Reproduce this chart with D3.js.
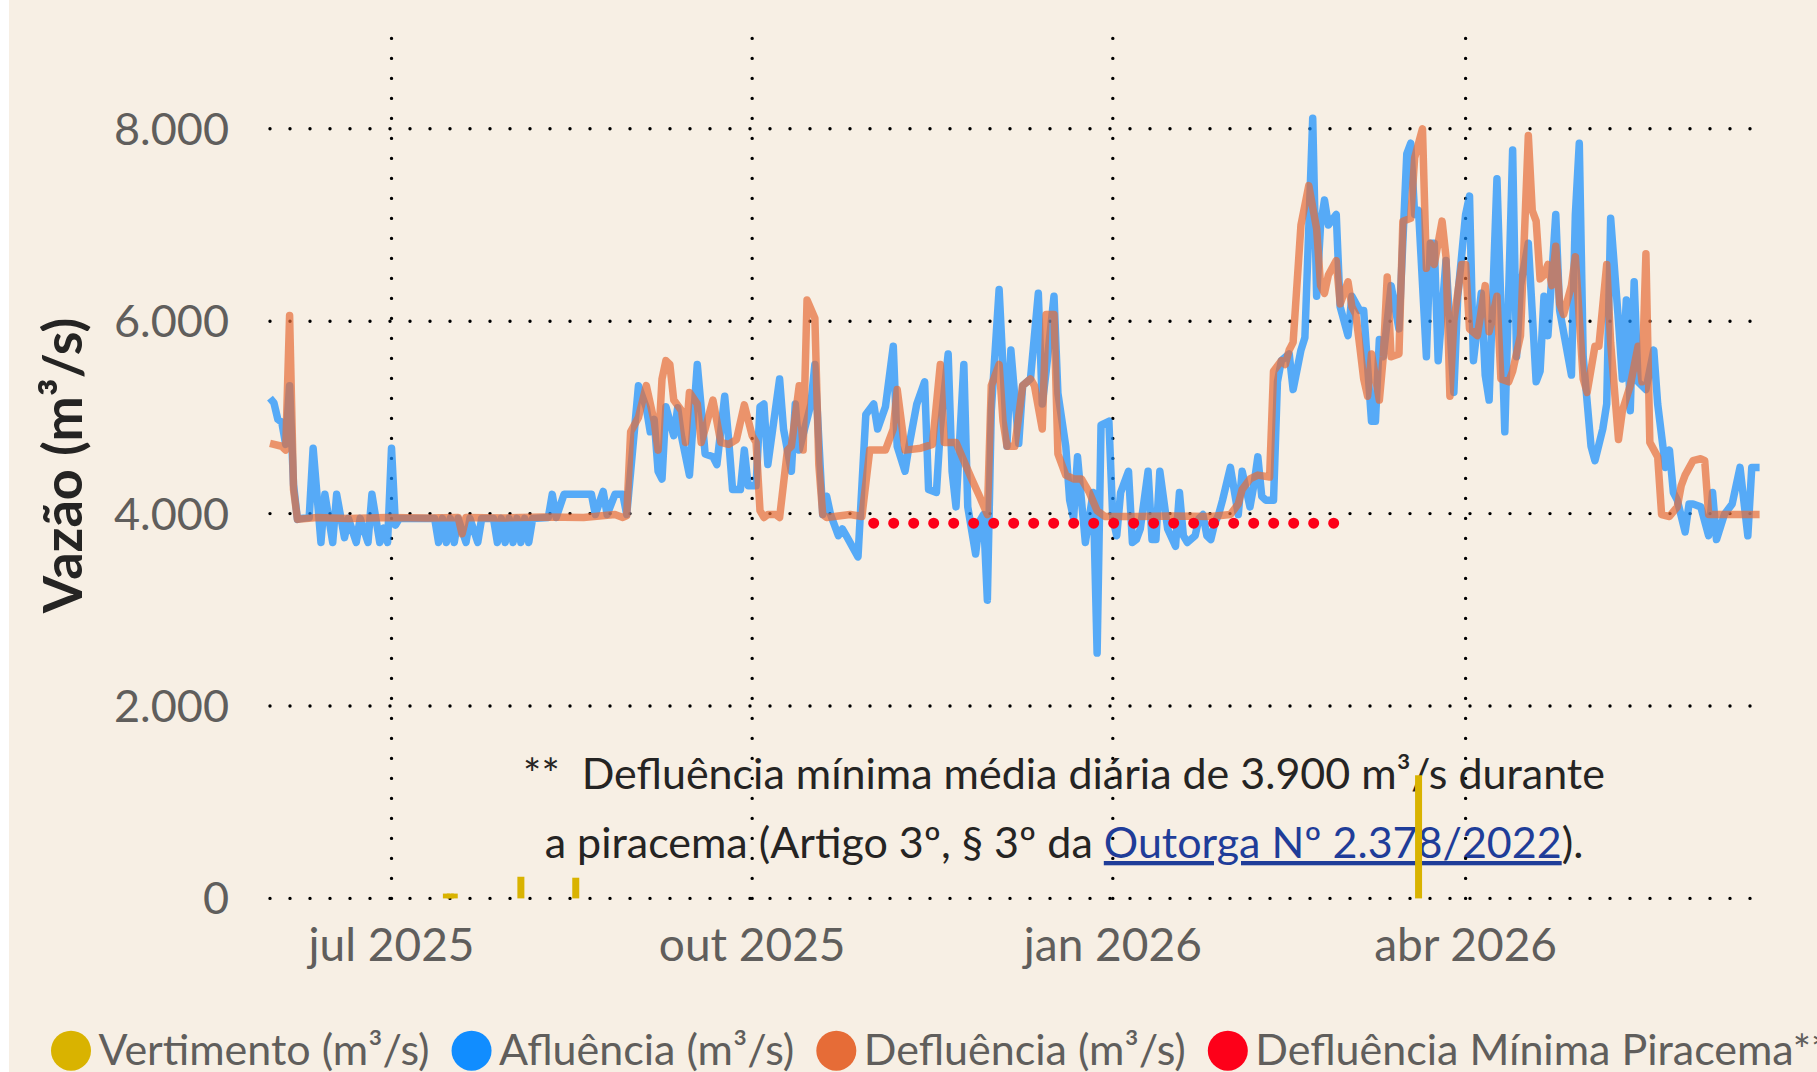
<!DOCTYPE html>
<html>
<head>
<meta charset="utf-8">
<script src="https://cdn.jsdelivr.net/npm/d3@7"></script>
<style>
  body { margin: 0; background: #ffffff; }
  svg text { font-family: Lato, "Open Sans", sans-serif; }
</style>
</head>
<body>
<svg id="chart" width="1817" height="1072"></svg>
<script>
// daily flows (date, m3/s)
const afluencia = [
  ["2025-05-31",5200],["2025-06-01",5150],["2025-06-02",4980],["2025-06-03",4950],["2025-06-04",4720],
  ["2025-06-05",5330],["2025-06-06",4300],["2025-06-07",3940],["2025-06-08",3950],["2025-06-10",3960],
  ["2025-06-11",4680],["2025-06-13",3700],["2025-06-14",4200],["2025-06-16",3700],["2025-06-17",4200],
  ["2025-06-19",3750],["2025-06-20",3950],["2025-06-22",3700],["2025-06-23",3950],["2025-06-25",3700],
  ["2025-06-26",4200],["2025-06-28",3700],["2025-06-29",3850],["2025-06-30",3700],["2025-07-01",4680],
  ["2025-07-02",3880],["2025-07-03",3950],["2025-07-12",3950],["2025-07-13",3700],["2025-07-14",3950],
  ["2025-07-15",3700],["2025-07-16",3950],["2025-07-17",3700],["2025-07-18",3950],["2025-07-20",3700],
  ["2025-07-21",3950],["2025-07-23",3700],["2025-07-24",3950],["2025-07-27",3950],["2025-07-28",3700],
  ["2025-07-29",3950],["2025-07-30",3700],["2025-07-31",3950],["2025-08-01",3700],["2025-08-02",3950],
  ["2025-08-03",3700],["2025-08-04",3950],["2025-08-05",3700],["2025-08-06",3950],["2025-08-10",3960],
  ["2025-08-11",4200],["2025-08-12",3960],["2025-08-14",4200],["2025-08-21",4200],["2025-08-22",3990],
  ["2025-08-24",4230],["2025-08-25",3990],["2025-08-27",4200],["2025-08-29",4200],["2025-08-30",3990],
  ["2025-09-01",4880],["2025-09-02",5330],["2025-09-04",5100],["2025-09-05",4850],["2025-09-06",4980],
  ["2025-09-07",4440],["2025-09-08",4360],["2025-09-09",5110],["2025-09-11",4810],["2025-09-12",5100],
  ["2025-09-13",4800],["2025-09-15",4400],["2025-09-17",5550],["2025-09-18",5100],["2025-09-19",4620],
  ["2025-09-21",4590],["2025-09-22",4510],["2025-09-24",5220],["2025-09-25",4770],["2025-09-26",4250],
  ["2025-09-28",4250],["2025-09-29",4660],["2025-09-30",4290],["2025-10-02",4290],["2025-10-03",5110],
  ["2025-10-04",5140],["2025-10-05",4510],["2025-10-08",5400],["2025-10-09",4880],["2025-10-11",4440],
  ["2025-10-12",5140],["2025-10-13",4660],["2025-10-16",5140],["2025-10-17",5550],["2025-10-19",3990],
  ["2025-10-20",4180],["2025-10-21",3990],["2025-10-23",3770],["2025-10-24",3840],["2025-10-25",3770],
  ["2025-10-28",3550],["2025-10-30",5030],["2025-11-01",5140],["2025-11-02",4880],["2025-11-04",5110],
  ["2025-11-06",5740],["2025-11-07",4700],["2025-11-09",4440],["2025-11-10",4700],["2025-11-12",5140],
  ["2025-11-14",5370],["2025-11-15",4250],["2025-11-17",4220],["2025-11-18",4880],["2025-11-20",5660],
  ["2025-11-21",4440],["2025-11-22",4070],["2025-11-24",5550],["2025-11-25",4070],["2025-11-27",3580],
  ["2025-11-28",3920],["2025-11-29",3990],["2025-11-30",3100],["2025-12-01",5070],["2025-12-03",6330],
  ["2025-12-05",4700],["2025-12-06",5700],["2025-12-08",4730],["2025-12-09",5330],["2025-12-11",5400],
  ["2025-12-13",6290],["2025-12-14",5140],["2025-12-15",5480],["2025-12-17",6260],["2025-12-18",5250],
  ["2025-12-20",4700],["2025-12-21",4140],["2025-12-22",3950],["2025-12-23",4590],["2025-12-24",4140],
  ["2025-12-25",3700],["2025-12-27",4220],["2025-12-28",2550],["2025-12-29",4920],["2025-12-31",4960],
  ["2026-01-01",3950],["2026-01-02",3770],["2026-01-03",4220],["2026-01-05",4440],["2026-01-06",3700],
  ["2026-01-07",3730],["2026-01-08",3840],["2026-01-10",4440],["2026-01-11",3730],["2026-01-12",3730],
  ["2026-01-13",4440],["2026-01-15",3840],["2026-01-17",3660],["2026-01-18",4220],["2026-01-19",3770],
  ["2026-01-20",3700],["2026-01-22",3770],["2026-01-23",3950],["2026-01-24",3990],["2026-01-25",3770],
  ["2026-01-26",3730],["2026-01-27",3900],["2026-01-28",3990],["2026-01-29",4140],["2026-01-31",4480],
  ["2026-02-02",3990],["2026-02-03",4440],["2026-02-05",4070],["2026-02-06",4300],["2026-02-07",4590],
  ["2026-02-08",4180],["2026-02-09",4140],["2026-02-11",4140],["2026-02-12",5370],["2026-02-13",5590],
  ["2026-02-15",5660],["2026-02-16",5290],["2026-02-18",5700],["2026-02-19",5830],["2026-02-21",8110],
  ["2026-02-22",6260],["2026-02-23",7000],["2026-02-24",7260],["2026-02-25",7000],["2026-02-27",7110],
  ["2026-02-28",6150],["2026-03-02",5850],["2026-03-03",6260],["2026-03-05",6110],["2026-03-06",6110],
  ["2026-03-08",4960],["2026-03-09",4960],["2026-03-10",5810],["2026-03-11",5630],["2026-03-13",6370],
  ["2026-03-15",5920],["2026-03-17",7740],["2026-03-18",7850],["2026-03-19",7110],["2026-03-20",7150],
  ["2026-03-22",5630],["2026-03-23",6810],["2026-03-24",6810],["2026-03-25",5590],["2026-03-27",6630],
  ["2026-03-29",5260],["2026-03-30",6260],["2026-04-01",7110],["2026-04-02",7300],["2026-04-03",5590],
  ["2026-04-05",6290],["2026-04-06",5440],["2026-04-07",5180],["2026-04-09",7480],["2026-04-11",4850],
  ["2026-04-13",7780],["2026-04-14",5630],["2026-04-15",6370],["2026-04-17",6810],["2026-04-19",5370],
  ["2026-04-20",5480],["2026-04-21",6260],["2026-04-22",5850],["2026-04-24",7110],["2026-04-25",6110],
  ["2026-04-28",5440],["2026-04-29",7110],["2026-04-30",7850],["2026-05-01",5630],["2026-05-03",4700],
  ["2026-05-04",4550],["2026-05-06",4880],["2026-05-07",5140],["2026-05-08",7070],["2026-05-10",6000],
  ["2026-05-11",5400],["2026-05-12",6220],["2026-05-13",5070],["2026-05-14",6410],["2026-05-15",5370],
  ["2026-05-17",5290],["2026-05-19",5700],["2026-05-20",5140],["2026-05-22",4480],["2026-05-23",4660],
  ["2026-05-24",4220],["2026-05-25",4140],["2026-05-27",3810],["2026-05-28",4100],["2026-05-29",4100],
  ["2026-05-31",4070],["2026-06-02",3770],["2026-06-03",4220],["2026-06-04",3730],["2026-06-06",3990],
  ["2026-06-08",4100],["2026-06-10",4480],["2026-06-12",3770],["2026-06-13",4480],["2026-06-15",4480]
];

const defluencia = [
  ["2025-05-31",4730],["2025-06-03",4700],["2025-06-04",4660],["2025-06-05",6060],["2025-06-06",4250],
  ["2025-06-07",3940],["2025-06-12",3960],["2025-06-20",3950],["2025-06-30",3960],["2025-07-10",3955],
  ["2025-07-18",3960],["2025-07-19",3790],["2025-07-20",3960],["2025-07-30",3955],["2025-08-09",3965],
  ["2025-08-19",3960],["2025-08-27",3990],["2025-08-29",3960],["2025-08-30",3980],["2025-08-31",4850],
  ["2025-09-02",5000],["2025-09-04",5330],["2025-09-06",4960],["2025-09-07",4660],["2025-09-08",5400],
  ["2025-09-09",5590],["2025-09-10",5550],["2025-09-11",5180],["2025-09-13",5070],["2025-09-14",4740],
  ["2025-09-15",5260],["2025-09-17",5140],["2025-09-18",4740],["2025-09-19",4880],["2025-09-21",5180],
  ["2025-09-22",4960],["2025-09-23",4740],["2025-09-25",4720],["2025-09-27",4770],["2025-09-29",5130],
  ["2025-10-01",4810],["2025-10-02",4740],["2025-10-03",4030],["2025-10-04",3960],["2025-10-05",3990],
  ["2025-10-07",3990],["2025-10-08",3960],["2025-10-10",4660],["2025-10-11",4700],["2025-10-13",5330],
  ["2025-10-14",4660],["2025-10-15",6220],["2025-10-17",6030],["2025-10-18",4510],["2025-10-19",3990],
  ["2025-10-20",3960],["2025-10-26",3990],["2025-10-29",3970],["2025-10-31",4660],["2025-11-04",4660],
  ["2025-11-06",4880],["2025-11-07",5290],["2025-11-09",4660],["2025-11-13",4680],["2025-11-16",4720],
  ["2025-11-18",5550],["2025-11-19",4740],["2025-11-22",4740],["2025-11-24",4550],["2025-11-26",4360],
  ["2025-11-28",4180],["2025-11-30",3990],["2025-12-01",5330],["2025-12-03",5550],["2025-12-04",4960],
  ["2025-12-05",4700],["2025-12-07",4700],["2025-12-09",5330],["2025-12-11",5400],["2025-12-12",5330],
  ["2025-12-14",4880],["2025-12-15",6070],["2025-12-17",6070],["2025-12-18",4620],["2025-12-20",4400],
  ["2025-12-22",4360],["2025-12-24",4360],["2025-12-26",4220],["2025-12-28",4030],["2025-12-30",3970],
  ["2026-01-07",3970],["2026-01-16",3975],["2026-01-26",3970],["2026-01-31",3990],["2026-02-02",4100],
  ["2026-02-03",4250],["2026-02-05",4360],["2026-02-07",4400],["2026-02-10",4380],["2026-02-11",5480],
  ["2026-02-13",5590],["2026-02-14",5550],["2026-02-15",5700],["2026-02-16",5780],["2026-02-18",7000],
  ["2026-02-20",7410],["2026-02-22",6960],["2026-02-23",6370],["2026-02-24",6290],["2026-02-25",6480],
  ["2026-02-27",6630],["2026-02-28",6180],["2026-03-02",6410],["2026-03-03",6150],["2026-03-04",6070],
  ["2026-03-05",5740],["2026-03-06",5400],["2026-03-07",5220],["2026-03-08",5660],["2026-03-10",5180],
  ["2026-03-11",5630],["2026-03-12",6460],["2026-03-13",5630],["2026-03-15",5660],["2026-03-16",7040],
  ["2026-03-18",7070],["2026-03-19",7700],["2026-03-21",8000],["2026-03-22",6550],["2026-03-23",6810],
  ["2026-03-24",6590],["2026-03-26",7040],["2026-03-27",6670],["2026-03-28",5220],["2026-03-29",6000],
  ["2026-03-31",6590],["2026-04-01",6590],["2026-04-02",5920],["2026-04-04",5850],["2026-04-06",6370],
  ["2026-04-07",5890],["2026-04-09",6260],["2026-04-10",5400],["2026-04-12",5370],["2026-04-13",5480],
  ["2026-04-15",5850],["2026-04-17",7930],["2026-04-18",7150],["2026-04-19",7040],["2026-04-20",6440],
  ["2026-04-21",6480],["2026-04-22",6590],["2026-04-23",6370],["2026-04-24",6780],["2026-04-25",6180],
  ["2026-04-26",6070],["2026-04-28",6370],["2026-04-29",6670],["2026-05-01",5400],["2026-05-02",5260],
  ["2026-05-04",5740],["2026-05-05",5740],["2026-05-07",6590],["2026-05-08",5780],["2026-05-10",4770],
  ["2026-05-11",5070],["2026-05-13",5330],["2026-05-15",5740],["2026-05-16",5370],["2026-05-17",6700],
  ["2026-05-18",4740],["2026-05-20",4590],["2026-05-21",3990],["2026-05-23",3970],["2026-05-25",4070],
  ["2026-05-26",4290],["2026-05-27",4400],["2026-05-29",4550],["2026-05-31",4570],["2026-06-01",4550],
  ["2026-06-02",3990],["2026-06-08",3990],["2026-06-15",3990]
];

// spillway days
const vertimentoDates = ["2025-07-15","2025-07-16","2025-07-17","2025-08-03","2025-08-17","2026-03-20"];
const vertimentoValues = [50, 50, 50, 225, 215, 1280];

// piracema minimum (1 nov - 28 fev)
const piracemaDates = ["2025-11-01", "2026-02-28"];
const piracemaValue = 3900;

const yTicks = [0, 2000, 4000, 6000, 8000];
const monthNames = ["jan","fev","mar","abr","mai","jun","jul","ago","set","out","nov","dez"];

const legendItems = ["Vertimento (m³/s)", "Afluência (m³/s)", "Defluência (m³/s)", "Defluência Mínima Piracema**"];
const legendColors = ["#D9B300", "#118DFF", "#E66C37", "#FD0019"];

const svg = d3.select("#chart");
const width = 1817, height = 1072;
const parseDay = d3.timeParse("%Y-%m-%d");
const ptBR = d3.formatLocale({decimal: ",", thousands: ".", grouping: [3], currency: ["R$", ""]});
const fmt = ptBR.format(",");

svg.append("rect")
  .attr("x", 9).attr("y", 0)
  .attr("width", width - 9).attr("height", height)
  .attr("fill", "#F7EFE4");

const x = d3.scaleTime()
  .domain([parseDay("2025-05-31"), parseDay("2026-06-15")])
  .range([270, 1759.6]);
const y = d3.scaleLinear()
  .domain([0, 9000])
  .range([898.4, 32.6]);

// note text sits under the grid
const note = svg.append("g")
  .attr("font-size", 43)
  .attr("fill", "#252423")
  .attr("text-anchor", "middle");
note.append("text")
  .attr("x", 1064).attr("y", 789)
  .text("**\u00a0 Defluência mínima média diária de 3.900 m³/s durante");
const line2 = note.append("text")
  .attr("x", 1064).attr("y", 858);
line2.append("tspan").text("a piracema (Artigo 3º, § 3º da ");
line2.append("tspan")
  .attr("fill", "#1F3D99")
  .style("text-decoration", "underline")
  .text("Outorga Nº 2.378/2022");
line2.append("tspan").text(").");

// dotted grid
const xTicks = x.ticks(d3.timeMonth.every(3));
const grid = svg.append("g")
  .attr("stroke", "#000")
  .attr("stroke-width", 3.4)
  .attr("stroke-linecap", "round")
  .attr("stroke-dasharray", "0 20");
grid.selectAll(".hgrid")
  .data(yTicks)
  .enter().append("line")
  .attr("class", "hgrid")
  .attr("x1", x.range()[0]).attr("x2", x.range()[1])
  .attr("y1", d => y(d)).attr("y2", d => y(d));
grid.selectAll(".vgrid")
  .data(xTicks)
  .enter().append("line")
  .attr("class", "vgrid")
  .attr("x1", d => x(d)).attr("x2", d => x(d))
  .attr("y1", y(0)).attr("y2", y(9000));

// bars
svg.append("g")
  .selectAll("rect")
  .data(vertimentoDates.map((d, i) => [parseDay(d), vertimentoValues[i]]))
  .enter().append("rect")
  .attr("x", d => x(d[0]) - 3.5)
  .attr("width", 7)
  .attr("y", d => y(d[1]))
  .attr("height", d => y(0) - y(d[1]))
  .attr("fill", "#D9B300");

const line = d3.line()
  .x(d => x(parseDay(d[0])))
  .y(d => y(d[1]));

svg.append("path")
  .datum(afluencia)
  .attr("d", line)
  .attr("fill", "none")
  .attr("stroke", "#118DFF")
  .attr("stroke-opacity", 0.7)
  .attr("stroke-width", 7.5)
  .attr("stroke-linejoin", "round");

svg.append("path")
  .datum(defluencia)
  .attr("d", line)
  .attr("fill", "none")
  .attr("stroke", "#E66C37")
  .attr("stroke-opacity", 0.7)
  .attr("stroke-width", 7.5)
  .attr("stroke-linejoin", "round");

svg.append("path")
  .datum(piracemaDates.map(d => [d, piracemaValue]))
  .attr("d", line)
  .attr("fill", "none")
  .attr("stroke", "#FD0019")
  .attr("stroke-width", 11)
  .attr("stroke-linecap", "round")
  .attr("stroke-dasharray", "0 20");

// axis labels
svg.append("g")
  .selectAll("text")
  .data(yTicks)
  .enter().append("text")
  .attr("x", 229)
  .attr("y", d => y(d) + 16)
  .attr("text-anchor", "end")
  .attr("font-size", 45)
  .attr("fill", "#605E5C")
  .text(d => fmt(d));

svg.append("g")
  .selectAll("text")
  .data(xTicks)
  .enter().append("text")
  .attr("x", d => x(d))
  .attr("y", 961)
  .attr("text-anchor", "middle")
  .attr("font-size", 46)
  .attr("fill", "#605E5C")
  .text(d => monthNames[d.getMonth()] + " " + d.getFullYear());

svg.append("text")
  .attr("transform", "translate(82," + ((y(0) + y(9000)) / 2) + ") rotate(-90)")
  .attr("text-anchor", "middle")
  .attr("font-size", 54)
  .attr("font-weight", "bold")
  .attr("fill", "#252423")
  .text("Vazão (m³/s)");

// legend along the bottom
let cx = 71;
legendItems.forEach((label, i) => {
  svg.append("circle")
    .attr("cx", cx).attr("cy", 1050.7).attr("r", 20)
    .attr("fill", legendColors[i]);
  const t = svg.append("text")
    .attr("x", cx + 27.5).attr("y", 1065)
    .attr("font-size", 43)
    .attr("fill", "#605E5C")
    .text(label);
  cx = cx + 27.5 + t.node().getComputedTextLength() + 42;
});
</script>
</body>
</html>
